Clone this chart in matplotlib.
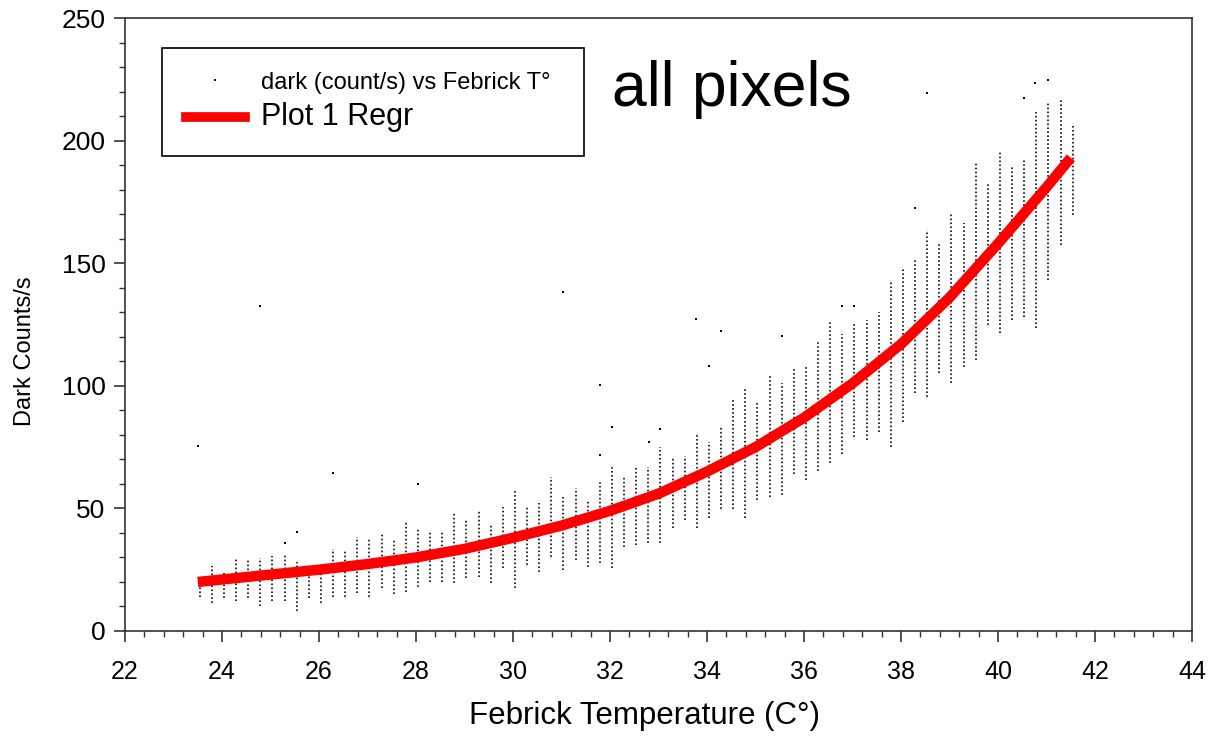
import matplotlib
matplotlib.use("Agg")
import matplotlib.pyplot as plt
from matplotlib.lines import Line2D
from matplotlib.ticker import MultipleLocator

plt.rcParams["font.family"] = ["Liberation Sans", "DejaVu Sans"]

# temperature columns (deg C) with the lowest / highest dark rate in each
col_temp = [23.54, 23.79, 24.04, 24.29, 24.54, 24.79, 25.04, 25.29, 25.54, 25.79,
            26.04, 26.29, 26.54, 26.79, 27.04, 27.29, 27.54, 27.79, 28.04, 28.29,
            28.54, 28.79, 29.04, 29.29, 29.54, 29.79, 30.04, 30.29, 30.54, 30.79,
            31.04, 31.29, 31.54, 31.79, 32.04, 32.29, 32.54, 32.79, 33.04, 33.29,
            33.54, 33.79, 34.04, 34.29, 34.54, 34.79, 35.04, 35.29, 35.54, 35.79,
            36.04, 36.29, 36.54, 36.79, 37.04, 37.29, 37.54, 37.79, 38.04, 38.29,
            38.54, 38.79, 39.04, 39.29, 39.54, 39.79, 40.04, 40.29, 40.54, 40.79,
            41.04, 41.29, 41.54]
col_low = [14.0, 11.3, 13.3, 12.4, 13.3, 10.2, 12.4, 12.4, 8.3, 13.3,
           11.3, 14.0, 13.8, 15.4, 14.0, 17.4, 15.2, 16.0, 18.0, 20.0,
           20.1, 19.4, 21.5, 22.1, 19.4, 25.5, 17.4, 26.9, 24.2, 30.3,
           24.9, 29.0, 26.3, 27.6, 25.5, 34.4, 35.1, 35.7, 36.0, 41.9,
           45.2, 41.9, 45.9, 49.9, 49.9, 45.9, 53.4, 54.8, 55.4, 64.2,
           61.5, 65.2, 68.4, 72.0, 79.0, 78.0, 81.3, 75.2, 85.3, 96.9,
           95.6, 105.1, 101.0, 107.8, 110.6, 124.8, 121.4, 126.8, 128.2, 123.4,
           143.1, 157.4, 169.6]
col_high = [22.0, 26.5, 23.5, 29.6, 28.9, 29.6, 30.6, 31.4, 28.3, 26.3,
            27.0, 33.5, 33.2, 38.4, 37.9, 40.0, 37.4, 45.0, 41.7, 40.5,
            40.5, 48.7, 45.3, 49.4, 43.3, 50.7, 57.5, 50.7, 52.4, 62.9,
            54.8, 58.2, 53.4, 60.9, 67.0, 63.2, 66.3, 67.0, 75.0, 70.5,
            71.2, 80.0, 77.2, 83.3, 94.2, 99.0, 93.5, 104.4, 101.0, 107.1,
            107.8, 118.0, 127.0, 121.0, 125.5, 127.0, 130.0, 143.0, 148.5, 151.3,
            163.6, 158.8, 170.3, 166.3, 190.7, 182.8, 195.5, 190.2, 192.0, 211.8,
            215.2, 217.2, 206.3]

# isolated pixels lying away from their column
stray_temp = [23.51, 24.78, 25.29, 25.54, 26.29, 28.04, 31.03, 31.79, 31.79, 32.04,
              32.80, 33.02, 33.78, 34.05, 34.28, 35.54, 36.78, 37.02, 38.29, 38.53,
              40.54, 40.76, 41.02]
stray_rate = [75.6, 132.7, 35.8, 40.5, 64.6, 60.0, 138.1, 100.3, 71.8, 83.3,
              77.2, 82.4, 127.1, 108.1, 122.5, 120.3, 132.5, 132.5, 172.6, 219.3,
              217.2, 223.6, 224.7]

# exponential regression through all pixels
fit_temp = [23.5, 24, 25, 26, 27, 28, 29, 30, 31, 32,
            33, 34, 35, 36, 37, 38, 39, 40, 41, 41.5]
fit_rate = [20, 21, 23, 25, 27.3, 30, 33.5, 38, 43, 49,
            56, 65, 75, 87, 101, 117, 136, 158, 181, 193]

fig = plt.figure(figsize=(12.08, 7.38), dpi=100)
ax = fig.add_axes([0.1035, 0.145, 0.8833, 0.8306])

ax.vlines(col_temp, col_low, col_high, colors="black", linewidth=1.3,
          linestyles=(0, (0.9, 1.3)), alpha=0.9)
ax.scatter(stray_temp, stray_rate, s=4, marker="s", color="black", linewidths=0)
ax.plot(fit_temp, fit_rate, color="red", lw=7.5, solid_capstyle="butt",
        solid_joinstyle="round")

ax.set_xlim(22, 44)
ax.set_ylim(0, 250)
ax.xaxis.set_major_locator(MultipleLocator(2))
ax.xaxis.set_minor_locator(MultipleLocator(0.4))
ax.yaxis.set_major_locator(MultipleLocator(50))
ax.yaxis.set_minor_locator(MultipleLocator(10))
ax.tick_params(which="major", direction="out", length=8, width=1.2, color="#333333")
ax.tick_params(which="minor", direction="out", length=4, width=1.0, color="#333333")
ax.tick_params(axis="x", labelsize=18, pad=13)
ax.tick_params(axis="y", labelsize=19, pad=6)
for s in ax.spines.values():
    s.set_linewidth(1.2)
    s.set_color("#333333")

ax.set_xlabel("Febrick Temperature (C°)", fontsize=22.5)
ax.set_ylabel("Dark Counts/s", fontsize=17)
ax.xaxis.set_label_coords(0.487, -0.115)
ax.yaxis.set_label_coords(-0.083, 0.457)

ax.text(0.4564, 0.8564, "all pixels", fontsize=45, transform=ax.transAxes,
        va="baseline", ha="left")

handles = [
    Line2D([], [], ls="none", marker="s", ms=1.5, color="black", mew=0),
    Line2D([], [], color="red", lw=7),
]
leg = ax.legend(handles, ["dark (count/s) vs Febrick T°", "Plot 1 Regr"],
                loc="upper left", bbox_to_anchor=(0.0347, 0.778, 0.3955, 0.173),
                mode="expand", borderaxespad=0, fontsize=17, handlelength=2.5,
                handletextpad=0.7, borderpad=1.0, labelspacing=0.35,
                fancybox=False, framealpha=1, edgecolor="black")
leg.get_frame().set_linewidth(1.2)
leg.get_texts()[1].set_fontsize(22)

fig.savefig("out.png", dpi=100)
